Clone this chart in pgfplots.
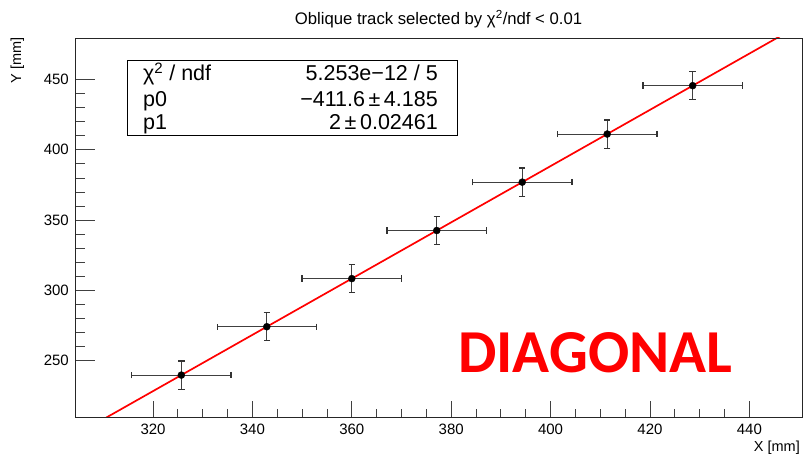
\documentclass[border=0pt]{standalone}
\usepackage{pgfplots}
\pgfplotsset{compat=1.18}
\usepackage{fontspec}
\setmainfont{Liberation Sans}
\newfontfamily\calibri{Carlito}
\pgfplotstableread{
x y ex ey
325.7 239.8 10 10
342.9 274.2 10 10
360.0 308.4 10 10
377.1 342.6 10 10
394.3 377.0 10 10
411.4 411.2 10 10
428.6 445.6 10 10
}\points
\begin{document}
\begin{tikzpicture}[x=1pt,y=1pt]
\useasboundingbox (0,0) rectangle (805,455);
% axis carrying y ticks and data
\begin{axis}[
  at={(75pt,38pt)}, anchor=south west,
  width=727pt, height=379pt, scale only axis,
  xmin=304.3, xmax=450.6, ymin=210, ymax=479.5,
  axis line style={line width=0.9pt, black!85},
  tick pos=left, tick align=inside,
  xtick=\empty,
  ytick={250,300,350,400,450},
  minor y tick num=4,
  major tick length=20pt, minor tick length=10pt,
  tick style={line width=0.8pt, black!75},
  /pgf/number format/assume math mode=true,
  yticklabel style={font=\fontsize{15}{18}\selectfont, inner sep=0pt, xshift=-6pt},
]
\addplot[only marks, mark=*, mark size=3.5pt, black,
  error bars/.cd, x dir=both, x explicit, y dir=both, y explicit,
  error mark=|,
  error bar style={line width=1pt, black!75},
  error mark options={black!80, mark size=3.2pt, line width=1.2pt}]
  table[x=x, y=y, x error=ex, y error=ey] {\points};
\addplot[red, line width=1.7pt] coordinates {(300,188.4) (460,508.4)};
\end{axis}
% axis carrying x ticks
\begin{axis}[
  at={(75pt,38pt)}, anchor=south west,
  width=727pt, height=379pt, scale only axis,
  xmin=304.3, xmax=450.6, ymin=210, ymax=479.5,
  axis line style={line width=0.9pt, black!85},
  tick pos=left, tick align=inside,
  ytick=\empty,
  xtick={320,340,360,380,400,420,440},
  minor x tick num=3,
  major tick length=16pt, minor tick length=8pt,
  tick style={line width=0.8pt, black!75},
  /pgf/number format/assume math mode=true,
  xticklabel style={font=\fontsize{15}{18}\selectfont, inner sep=0pt, yshift=-7pt},
]
\end{axis}
% title and axis labels
\node[anchor=base, inner sep=0pt, font=\fontsize{16.7}{20}\selectfont] at (438.5,430.7)
  {Oblique track selected by χ\textsuperscript{2}/ndf < 0.01};
\node[anchor=base east, inner sep=0pt, font=\fontsize{14.5}{17}\selectfont] at (800,4) {X [mm]};
\node[rotate=90, anchor=base east, inner sep=0pt, font=\fontsize{14.5}{17}\selectfont] at (21,418) {Y [mm]};
% statistics box
\draw[line width=1pt, fill=white] (127,319) rectangle (457,394);
\begin{scope}[every node/.style={inner sep=0pt, font=\fontsize{21.5}{25}\selectfont}]
\node[anchor=base west] at (143,374) {χ\textsuperscript{2} / ndf};
\node[anchor=base west] at (143,348.5) {p0};
\node[anchor=base west] at (143,325) {p1};
\node[anchor=base east] at (438,374) {5.253e−12 / 5};
\node[anchor=base east] at (438,348.5) {−411.6\,±\,4.185};
\node[anchor=base east] at (438,325) {2\,±\,0.02461};
\end{scope}
\node[anchor=base west, inner sep=0pt, text=red, font={\calibri\bfseries\fontsize{61}{70}\selectfont}] at (458,82) {DIAGONAL};
\end{tikzpicture}
\end{document}
